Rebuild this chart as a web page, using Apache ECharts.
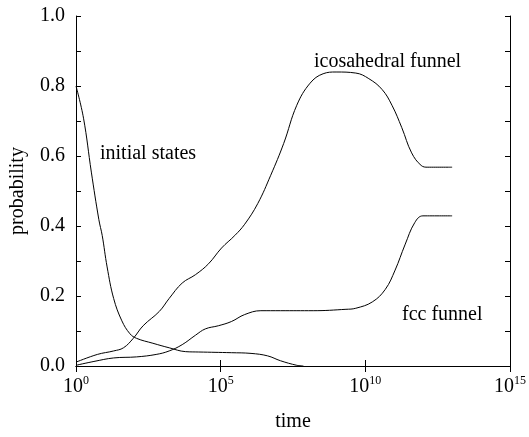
<!DOCTYPE html>
<html>
<head>
<meta charset="utf-8">
<script src="https://cdn.jsdelivr.net/npm/echarts@6/dist/echarts.min.js"></script>
<style>
  html, body { margin: 0; padding: 0; background: #fff; }
  #chart { width: 529px; height: 437px; }
</style>
</head>
<body>
<div id="chart"></div>
<script>
// time (log scale) / probability pairs
const initialTime = [1, 1.82, 3.39, 6.17, 8.05, 11.9, 20, 38.5, 73.5, 124, 454, 1.67e3, 6.17e3, 1.74e4, 2.34e5, 1.12e6, 4.17e6, 1.17e7, 4.27e7, 7.24e7];
const initialProb = [0.80, 0.708, 0.554, 0.418, 0.373, 0.283, 0.193, 0.129, 0.092, 0.079, 0.065, 0.052, 0.041, 0.040, 0.038, 0.036, 0.029, 0.015, 0.002, 0];

const icoTime = [1, 5.45, 20, 43.7, 95.5, 209, 759, 1.66e3, 4.68e3, 1.35e4, 3.8e4, 1.07e5, 3.09e5, 6.76e5, 1.91e6, 5.37e6, 1.51e7, 4.27e7, 1.23e8, 3.47e8, 9.77e8, 4.68e9, 1.32e10, 3.8e10, 8.32e10, 1.82e11, 3.98e11, 8.51e11, 1.45e12, 1e13];
const icoProb = [0.011, 0.033, 0.043, 0.052, 0.079, 0.115, 0.156, 0.193, 0.237, 0.261, 0.292, 0.337, 0.373, 0.405, 0.464, 0.545, 0.636, 0.745, 0.808, 0.835, 0.840, 0.837, 0.821, 0.790, 0.745, 0.681, 0.609, 0.573, 0.568, 0.568];

const fccTime = [1, 4.17, 20, 123, 589, 1.66e3, 4.68e3, 1.35e4, 2.95e4, 8.32e4, 2.34e5, 6.76e5, 2.45e6, 1.17e7, 1.58e8, 2.14e9, 4.68e9, 1.74e10, 4.9e10, 1.07e11, 2.34e11, 5.13e11, 9.77e11, 1e13];
const fccProb = [0.002, 0.013, 0.023, 0.026, 0.033, 0.043, 0.061, 0.088, 0.106, 0.115, 0.127, 0.147, 0.158, 0.158, 0.158, 0.162, 0.165, 0.183, 0.219, 0.274, 0.346, 0.410, 0.429, 0.429];

const curveLabels = ["initial states", "icosahedral funnel", "fcc funnel"];

const font = '"Liberation Serif", "Times New Roman", serif';
const pairs = (xs, ys) => xs.map((x, i) => [x, ys[i]]);

const chart = echarts.init(document.getElementById("chart"));

const xBase = {
  type: "log",
  logBase: 10,
  min: 1,
  max: 1e15,
  interval: 5,
  axisLine: { lineStyle: { color: "#000", width: 1 } },
  axisTick: { inside: true, length: 6, lineStyle: { color: "#000" } },
  minorTick: { show: false },
  splitLine: { show: false },
};
const yBase = {
  type: "value",
  min: 0,
  max: 1,
  interval: 0.1,
  axisLine: { show: true, lineStyle: { color: "#000", width: 1 } },
  axisTick: { show: true, inside: true, length: 5, lineStyle: { color: "#000" } },
  splitLine: { show: false },
};

const lineSeries = (name, xs, ys) => ({
  name: name,
  type: "line",
  data: pairs(xs, ys),
  smooth: 0.4,
  showSymbol: false,
  lineStyle: { color: "#000", width: 1 },
});

let option = {
  animation: false,
  backgroundColor: "#fff",
  grid: { left: 75, right: 12, top: 16, bottom: 53 },
  xAxis: [
    Object.assign({}, xBase, {
      position: "bottom",
      name: "time",
      nameLocation: "middle",
      nameGap: 46,
      nameTextStyle: { fontFamily: font, fontSize: 20, color: "#000" },
      axisLabel: {
        margin: 9,
        formatter: (v) => "{b|10}{s|" + Math.round(Math.log10(v)) + "}",
        rich: {
          b: { fontFamily: font, fontSize: 20, color: "#000", lineHeight: 22, verticalAlign: "bottom" },
          s: { fontFamily: font, fontSize: 12, color: "#000", lineHeight: 22, verticalAlign: "top", padding: [0, 0, 8, 0] },
        },
      },
    }),
    Object.assign({}, xBase, { position: "top", axisLabel: { show: false } }),
  ],
  yAxis: [
    Object.assign({}, yBase, {
      position: "left",
      name: "probability",
      nameLocation: "middle",
      nameGap: 48,
      nameTextStyle: { fontFamily: font, fontSize: 20, color: "#000" },
      axisLabel: {
        margin: 11,
        fontFamily: font,
        fontSize: 20,
        color: "#000",
        // only every other tick carries a label (0.0, 0.2, ...)
        formatter: (v) => (Math.round(v * 10) % 2 === 0 ? v.toFixed(1) : ""),
      },
    }),
    Object.assign({}, yBase, { position: "right", axisLabel: { show: false } }),
  ],
  graphic: [
    { type: "text", left: 100, top: 144, style: { text: curveLabels[0], font: "20px " + font, fill: "#000" } },
    { type: "text", left: 314, top: 52, style: { text: curveLabels[1], font: "20px " + font, fill: "#000" } },
    { type: "text", left: 402, top: 305, style: { text: curveLabels[2], font: "20px " + font, fill: "#000" } },
  ],
  series: [
    lineSeries(curveLabels[0], initialTime, initialProb),
    lineSeries(curveLabels[1], icoTime, icoProb),
    lineSeries(curveLabels[2], fccTime, fccProb),
  ],
};

chart.setOption(option);
</script>
</body>
</html>
